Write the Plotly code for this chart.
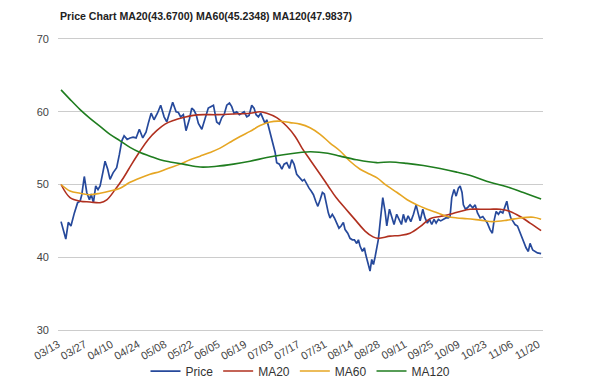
import plotly.graph_objects as go

# Tick labels (every 14 days starting 03/13)
tick_labels = ["03/13", "03/27", "04/10", "04/24", "05/08", "05/22", "06/05", "06/19",
               "07/03", "07/17", "07/31", "08/14", "08/28", "09/11", "09/25", "10/09",
               "10/23", "11/06", "11/20"]
tick_days = [0, 14, 28, 42, 56, 70, 84, 98, 112, 126, 140, 154, 168, 182, 196, 210, 224, 238, 252]

# Price (day offset from 03/13, value)
price_days = [0, 2.5, 3.8, 5.2, 7.0, 8.7, 10.0, 10.9, 12.2, 13.5, 14.9, 15.8, 17.0, 18.2, 19.4,
              20.5, 21.9, 23.1, 24.5, 25.7, 27.3, 29.2, 30.6, 31.9, 33.1, 34.7, 36.2, 37.8, 39.4,
              41.1, 42.9, 44.6, 45.8, 47.3, 48.8, 50.6, 52.3, 54.1, 55.5, 56.9, 58.6, 60.4, 61.6,
              62.8, 64.2, 65.6, 67.4, 68.6, 69.8, 70.9, 72.1, 73.9, 75.6, 77.3, 78.6, 80.0, 81.7,
              83.1, 84.4, 85.6, 87.0, 88.4, 89.6, 90.8, 92.2, 93.6, 94.9, 96.1, 97.5, 98.7, 100.1,
              101.3, 102.4, 103.6, 104.8, 105.9, 107.1, 108.0, 108.9, 110.1, 111.5, 112.4, 113.2,
              114.6, 115.9, 117.1, 118.5, 119.9, 121.1, 122.3, 123.7, 125.1, 126.7, 127.7, 129.0,
              130.2, 131.3, 132.5, 133.7, 134.8, 136.0, 137.2, 138.2, 139.5, 140.3, 141.2, 142.4,
              143.5, 144.7, 145.9, 147.0, 148.2, 149.1, 150.5, 151.7, 152.9, 154.0, 155.2, 156.1,
              157.0, 158.2, 159.2, 160.0, 161.0, 162.2, 163.1, 164.0, 164.9, 165.7, 166.6, 167.5,
              168.9, 170.1, 171.0, 172.4, 173.6, 174.8, 176.2, 177.5, 178.7, 179.7, 180.9, 182.2,
              183.6, 185.0, 186.4, 187.4, 188.5, 189.9, 191.1, 192.3, 193.4, 194.6, 195.8, 196.9,
              198.1, 199.3, 200.7, 202.0, 203.3, 204.2, 205.1, 206.3, 207.4, 208.6, 209.5, 210.5,
              211.2, 212.3, 213.3, 214.7, 216.1, 217.4, 218.6, 220.0, 221.4, 222.6, 223.8, 225.2,
              226.4, 227.3, 228.4, 229.6, 230.6, 231.9, 233.1, 234.0, 234.8, 236.1, 237.1, 238.3,
              239.6, 241.0, 242.7, 244.1, 245.3, 246.2, 247.6, 248.9, 250.1, 252]
price_vals = [44.9, 42.5, 44.8, 44.3, 46.1, 47.5, 47.7, 48.6, 51.1, 48.9, 47.9, 48.7, 47.5, 49.8, 49.3,
              49.8, 51.6, 53.2, 52.1, 50.7, 51.6, 52.3, 54.1, 56.0, 56.7, 56.2, 56.4, 56.5, 56.4,
              57.6, 56.4, 57.2, 58.4, 59.8, 58.9, 59.8, 60.9, 59.3, 58.6, 60.0, 61.3, 60.0, 59.9,
              59.3, 59.6, 57.4, 59.0, 60.5, 60.2, 59.6, 58.4, 57.6, 59.0, 60.5, 60.7, 60.9, 58.6,
              58.3, 59.2, 59.6, 60.9, 61.2, 60.7, 59.8, 60.0, 59.6, 59.8, 60.0, 59.3, 59.5, 60.9,
              60.5, 59.6, 59.3, 59.8, 59.2, 58.4, 58.9, 58.0, 56.7, 55.7, 54.4, 53.0,
              52.8, 52.1, 52.8, 53.0, 52.2, 53.4, 52.8, 51.4, 50.9, 50.5, 50.7, 50.0,
              49.5, 49.1, 48.6, 47.7, 47.0, 47.9, 48.9, 48.7, 47.0, 46.1, 45.4, 45.9,
              45.4, 44.7, 44.0, 44.3, 44.8, 43.8, 43.3, 42.6, 42.4, 42.4, 41.9, 42.4,
              41.5, 40.8, 41.3, 40.3, 39.2, 38.1, 39.7, 39.0, 40.1, 41.5, 42.5, 44.8,
              48.2, 46.3, 44.3, 46.6, 45.7, 44.5, 45.9, 45.2, 44.5, 45.9, 44.8, 45.7,
              44.9, 45.9, 47.2, 46.1, 45.0, 46.6, 45.4, 44.7, 45.2, 44.5, 45.2, 44.7,
              45.2, 45.0, 45.2, 45.4, 45.4, 45.6, 48.2, 49.3, 48.4, 49.5, 49.8, 48.9,
              47.2, 46.6, 46.8, 47.2, 46.8, 47.2, 46.1, 45.4, 45.6, 45.2, 44.7, 43.8,
              43.3, 45.0, 46.3, 45.9, 46.3, 46.1, 47.2, 47.7, 46.6, 45.4, 45.0, 44.5,
              44.3, 43.3, 42.2, 41.3, 40.8, 41.9, 41.0, 40.8, 40.6, 40.5]

ma20_days = [0, 4.7, 10.0, 15.2, 20.5, 24.0, 28.4, 32.7, 37.1, 41.5, 45.8, 50.2, 54.6, 59.0, 64.2,
             69.5, 74.7, 81.7, 90.5, 99.2, 104.5, 108.0, 113.2, 118.5, 122.9, 126.5, 130.7, 136.0,
             140.2, 144.4, 149.6, 154.9, 159.6, 163.8, 166.4, 172.7, 178.0, 183.2, 188.5, 193.7,
             199.0, 204.2, 209.5, 214.7, 220.0, 225.2, 230.5, 235.7, 241.0, 246.2, 252]
ma20_vals = [50.0, 48.2, 47.7, 47.6, 47.5, 47.9, 49.3, 50.9, 52.8, 54.6, 56.2, 57.4, 58.3, 58.8, 59.2,
             59.5, 59.6, 59.6, 59.7, 59.8, 60.0, 59.8, 59.2, 58.0, 56.6, 55.0, 53.4, 51.4,
             49.8, 48.2, 46.6, 45.0, 43.6, 42.8, 42.6, 42.9, 43.0, 43.3, 44.2, 45.3,
             45.6, 45.9, 46.3, 46.6, 46.6, 46.6, 46.6, 46.3, 45.6, 44.7, 43.67]

ma60_days = [0, 4.7, 10.0, 15.2, 20.5, 25.7, 31.0, 36.2, 41.5, 46.7, 52.0, 57.2, 62.5, 67.7, 73.0,
             78.2, 83.5, 88.7, 94.0, 99.2, 104.5, 109.7, 115.0, 120.2, 125.5, 130.7, 136.0, 141.2,
             146.5, 151.7, 157.0, 162.2, 165.9, 171.2, 176.4, 181.7, 186.9, 192.2, 197.4, 202.7,
             207.9, 213.2, 220.0, 226.8, 234.2, 241.0, 247.8, 252]
ma60_vals = [50.0, 49.1, 48.8, 48.6, 48.8, 49.1, 49.5, 50.3, 50.9, 51.4, 51.8, 52.3, 52.8, 53.4, 53.9,
             54.4, 55.0, 55.8, 56.6, 57.3, 58.1, 58.6, 58.7, 58.5, 58.3, 57.8, 56.9, 55.7,
             54.6, 53.2, 52.1, 51.4, 50.9, 49.8, 48.9, 47.9, 47.2, 46.6, 46.1, 45.6,
             45.4, 45.3, 45.1, 44.9, 45.1, 45.4, 45.5, 45.23]

ma120_days = [0, 4.7, 10.0, 15.2, 20.5, 25.7, 31.0, 36.2, 41.5, 46.7, 52.0, 57.2, 64.2, 73.0, 81.7,
              90.5, 99.2, 108.0, 116.7, 125.5, 131.0, 140.0, 146.5, 155.0, 165.7, 172.7, 181.5,
              190.2, 199.0, 207.7, 216.5, 225.2, 234.0, 242.7, 252]
ma120_vals = [63.0, 61.7, 60.3, 59.1, 58.0, 56.9, 56.0, 55.1, 54.4, 53.9, 53.4, 53.1, 52.8, 52.4, 52.5,
              52.8, 53.2, 53.7, 54.1, 54.4, 54.5, 54.3, 53.9, 53.4, 53.0, 53.1, 52.9,
              52.6, 52.2, 51.7, 51.1, 50.3, 49.7, 48.9, 48.0]

title_text = "Price Chart MA20(43.6700) MA60(45.2348) MA120(47.9837)"

fig = go.Figure()
fig.add_trace(go.Scatter(x=price_days, y=price_vals, mode="lines", name="Price",
                         line=dict(color="#26499b", width=1.7)))
fig.add_trace(go.Scatter(x=ma20_days, y=ma20_vals, mode="lines", name="MA20",
                         line=dict(color="#b0301f", width=1.6, shape="spline")))
fig.add_trace(go.Scatter(x=ma60_days, y=ma60_vals, mode="lines", name="MA60",
                         line=dict(color="#e6a623", width=1.6, shape="spline")))
fig.add_trace(go.Scatter(x=ma120_days, y=ma120_vals, mode="lines", name="MA120",
                         line=dict(color="#1f7d1f", width=1.6, shape="spline")))

fig.update_layout(
    width=600, height=387,
    paper_bgcolor="white", plot_bgcolor="white",
    margin=dict(l=58, r=57, t=39, b=57, autoexpand=False),
    font=dict(family="Liberation Sans, Arial, sans-serif", size=11, color="#444444"),
    title=dict(text="<b>" + title_text + "</b>", x=60 / 600, xanchor="left",
               yref="container", y=1 - 16 / 387, yanchor="middle",
               font=dict(size=10.6, color="#222222")),
    showlegend=True,
    legend=dict(orientation="h", x=0.5, xanchor="center", y=-0.141, yanchor="middle",
                font=dict(size=12, color="#333333"), bgcolor="rgba(0,0,0,0)",
                itemwidth=30),
)
fig.update_xaxes(range=[-1.6, 253], tickmode="array", tickvals=tick_days, ticktext=tick_labels,
                 tickangle=-30, showgrid=False, zeroline=False,
                 showline=True, mirror=True, linecolor="#cccccc", linewidth=1, ticks="",
                 ticklabelshift=-3, ticklabelstandoff=3,
                 automargin=False, tickfont=dict(size=11, color="#444444"))
fig.update_yaxes(range=[30, 70], tickvals=[30, 40, 50, 60, 70], showgrid=True,
                 gridcolor="#cccccc", gridwidth=1, zeroline=False, showline=False, ticks="",
                 automargin=False, ticklabelstandoff=8, tickfont=dict(size=11, color="#444444"))

fig.write_html("out.html", config={"displayModeBar": False},
               post_script="document.body.style.margin='0';document.body.style.overflow='hidden';")
